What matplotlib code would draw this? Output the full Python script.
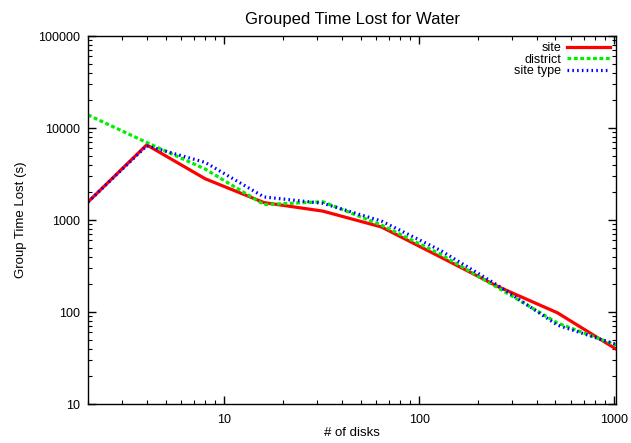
import matplotlib
matplotlib.use("Agg")
import matplotlib.pyplot as plt
import matplotlib.ticker as mticker
import numpy as np

plt.rcParams['font.family'] = ['Liberation Sans', 'DejaVu Sans']

disks = [2, 4, 8, 16, 32, 64, 128, 256, 512, 1024]
site = [1570, 6560, 2800, 1546, 1250, 840, 398, 187, 98, 39.5]
district = [13860, 6960, 3570, 1470, 1580, 880, 426, 181, 76, 43.7]
site_type = [1570, 6410, 4220, 1780, 1520, 975, 470, 192, 72, 44.5]

fig = plt.figure(figsize=(6.31, 4.43), dpi=100)
ax = fig.add_axes([0.1395, 0.088, 0.837, 0.8307])

ax.plot(disks, site, color='#ff0000', lw=2.3, label='site')
ax.plot(disks, district, color='#00ee00', lw=2.3, ls=(0, (1.2, 0.8)), label='district')
ax.plot(disks, site_type, color='#0000ff', lw=2.3, ls=(0, (0.5, 1.0)), label='site type')

ax.set_xscale('log')
ax.set_yscale('log')
ax.set_xlim(2, 1024)
ax.set_ylim(10, 100000)

fmt = mticker.FuncFormatter(lambda v, p: '%d' % v)
ax.xaxis.set_major_formatter(fmt)
ax.yaxis.set_major_formatter(fmt)
ax.xaxis.set_minor_formatter(mticker.NullFormatter())
ax.yaxis.set_minor_formatter(mticker.NullFormatter())
ax.xaxis.set_minor_locator(mticker.LogLocator(base=10, subs=np.arange(2, 10)))
ax.yaxis.set_minor_locator(mticker.LogLocator(base=10, subs=np.arange(2, 10)))

ax.tick_params(which='both', direction='in', top=True, right=True, labelsize=9)
ax.tick_params(which='major', length=6, width=1)
ax.tick_params(which='minor', length=3, width=0.8)
ax.tick_params(axis='x', pad=7)
ax.tick_params(axis='y', pad=6)
for s in ax.spines.values():
    s.set_linewidth(1)

ax.set_title('Grouped Time Lost for Water', fontsize=12, pad=9)
ax.set_xlabel('# of disks', fontsize=9.5, labelpad=1)
ax.set_ylabel('Group Time Lost (s)', fontsize=9.5, labelpad=8)

ax.legend(loc='upper right', frameon=False, markerfirst=False, fontsize=9,
          handlelength=3.4, labelspacing=-0.05, borderaxespad=0.1, handletextpad=0.5)

fig.savefig('out.png', dpi=100)
